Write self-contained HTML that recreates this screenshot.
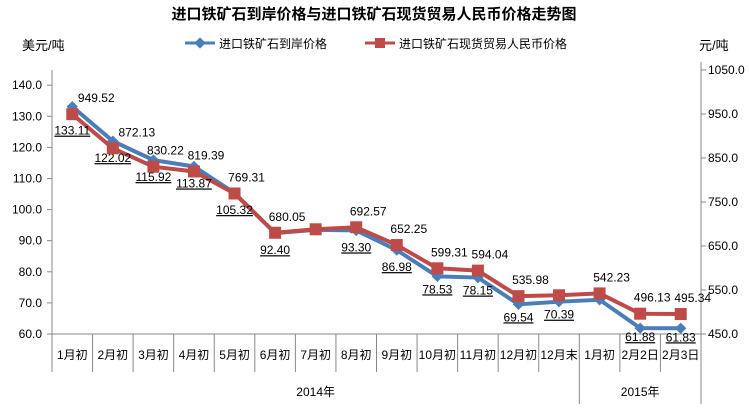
<!DOCTYPE html>
<html><head><meta charset="utf-8"><style>
body{margin:0;background:#fff;}
svg text{font-family:"Liberation Sans","Noto Sans CJK SC",sans-serif;}
</style></head><body>
<svg id="c" width="749" height="404" xmlns="http://www.w3.org/2000/svg">
<text x="374" y="19" text-anchor="middle" font-size="15" font-weight="bold">进口铁矿石到岸价格与进口铁矿石现货贸易人民币价格走势图</text>
<text x="22" y="50" font-size="13">美元/吨</text>
<text x="699" y="50" font-size="13">元/吨</text>
<g>
<line x1="185" y1="43" x2="215" y2="43" stroke="#4a7ebb" stroke-width="3"/>
<rect x="196" y="39" width="8" height="8" fill="#4a7ebb" transform="rotate(45 200 43)"/>
<text x="219" y="48" font-size="12">进口铁矿石到岸价格</text>
<line x1="365" y1="43" x2="395" y2="43" stroke="#be4b48" stroke-width="3"/>
<rect x="375" y="38" width="10" height="10" fill="#be4b48"/>
<text x="399" y="48" font-size="12">进口铁矿石现货贸易人民币价格</text>
</g>
<g id="axes"></g>
<g id="marks"></g>
</svg>
<script>
const categories=["1月初","2月初","3月初","4月初","5月初","6月初","7月初","8月初","9月初","10月初","11月初","12月初","12月末","1月初","2月2日","2月3日"];
const usdValues=[133.11,122.02,115.92,113.87,105.32,92.40,93.5,93.30,86.98,78.53,78.15,69.54,70.39,71.0,61.88,61.83];
const usdLabels=["133.11","122.02","115.92","113.87","105.32","92.40","","93.30","86.98","78.53","78.15","69.54","70.39","","61.88","61.83"];
const cnyValues=[949.52,872.13,830.22,819.39,769.31,680.05,688,692.57,652.25,599.31,594.04,535.98,538,542.23,496.13,495.34];
const cnyLabels=["949.52","872.13","830.22","819.39","769.31","680.05","","692.57","652.25","599.31","594.04","535.98","","542.23","496.13","495.34"];
const leftTicks=[60,70,80,90,100,110,120,130,140];
const rightTicks=[450,550,650,750,850,950,1050];
const years=["2014年","2015年"];
const NS="http://www.w3.org/2000/svg";
const X0=52,X1=701,YB=334;
const slot=(X1-X0)/categories.length;
const xs=i=>X0+slot*(i+0.5);
const yl=v=>YB-(v-60)*3.11;
const yr=v=>YB-(v-450)*0.44;
function mk(tag,attrs,parent,txt){const e=document.createElementNS(NS,tag);for(const k in attrs)e.setAttribute(k,attrs[k]);if(txt!=null)e.textContent=txt;parent.appendChild(e);return e;}
const ax=document.getElementById('axes'),mg=document.getElementById('marks');
let e;
e=mk('line',{x1:X0,y1:70,x2:X0,y2:YB,stroke:'#888'},ax);


e=mk('line',{x1:X1,y1:62,x2:X1,y2:404,stroke:'#888'},ax);


e=mk('line',{x1:X0,y1:YB,x2:X1,y2:YB,stroke:'#888'},ax);


leftTicks.forEach(v=>{mk('line',{x1:X0-5,y1:yl(v),x2:X0,y2:yl(v),stroke:'#888'},ax);
e=mk('text',{x:X0-10,y:yl(v)+4,'font-size':12,'text-anchor':'end'},ax,v.toFixed(1));

});
rightTicks.forEach(v=>{mk('line',{x1:X1,y1:yr(v),x2:X1+5,y2:yr(v),stroke:'#888'},ax);
e=mk('text',{x:X1+7,y:yr(v)+4,'font-size':12},ax,v.toFixed(1));

});
categories.forEach((c,i)=>{const x=X0+slot*i;mk('line',{x1:x,y1:YB,x2:x,y2:i==13?404:372,stroke:'#888'},ax);
e=mk('text',{x:xs(i),y:359,'font-size':12,'text-anchor':'middle'},ax,c);

});
e=mk('text',{x:X0+slot*6.5,y:396,'font-size':12,'text-anchor':'middle'},ax,years[0]);


e=mk('text',{x:X0+slot*14.5,y:396,'font-size':12,'text-anchor':'middle'},ax,years[1]);


e=mk('polyline',{points:usdValues.map((v,i)=>xs(i)+','+yl(v)).join(' '),fill:'none',stroke:'#4a7ebb','stroke-width':4},mg);


e=mk('polyline',{points:cnyValues.map((v,i)=>xs(i)+','+yr(v)).join(' '),fill:'none',stroke:'#be4b48','stroke-width':4},mg);


usdValues.forEach((v,i)=>{const x=xs(i),y=yl(v);
e=mk('rect',{x:x-4,y:y-4,width:8,height:8,fill:'#4a7ebb',transform:`rotate(45 ${x} ${y})`},mg);


if(usdLabels[i]){const dy=i==0?28:(i>=14?13:(i<9?21:17));
e=mk('text',{x:x,y:y+dy,'font-size':12,'text-anchor':'middle','text-decoration':'underline'},mg,usdLabels[i]);

}});
cnyValues.forEach((v,i)=>{const x=xs(i),y=yr(v);
e=mk('rect',{x:x-6,y:y-6,width:12,height:12,fill:'#be4b48'},mg);


if(cnyLabels[i]){const dx=i<2?24:12;
e=mk('text',{x:x+dx,y:y-12,'font-size':12,'text-anchor':'middle'},mg,cnyLabels[i]);

}});
</script>
</body></html>
